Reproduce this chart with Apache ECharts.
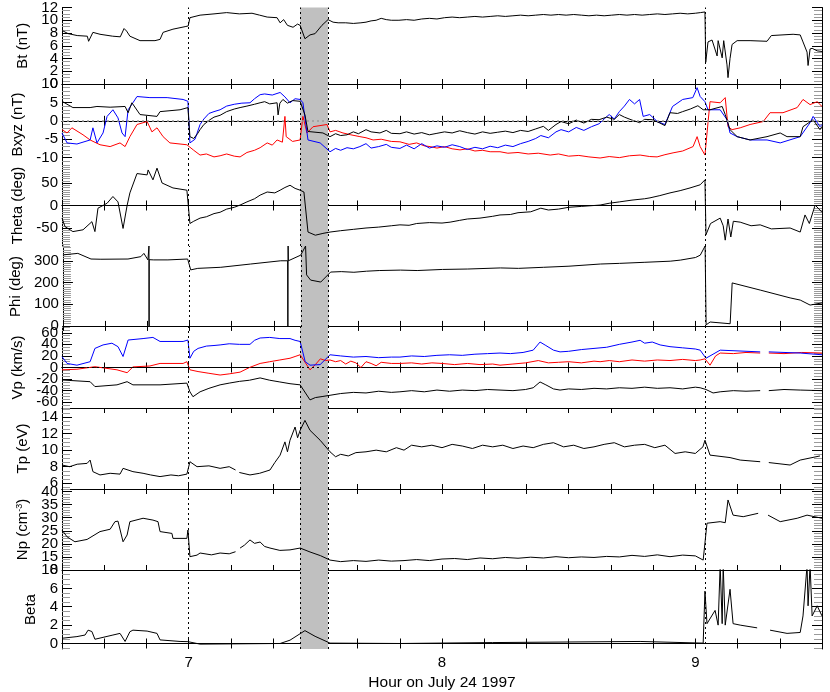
<!DOCTYPE html>
<html><head><meta charset="utf-8">
<script src="https://cdn.jsdelivr.net/npm/echarts/dist/echarts.min.js"></script>
<style>html,body{margin:0;padding:0;background:#fff}#c{width:830px;height:692px}</style>
</head><body><div id="c"></div>
<script>
// ---------- data: [hour, value] ----------
const bt = [[6.500,8.4],[6.524,7.9],[6.560,7.6],[6.600,7.5],[6.605,6.7],[6.612,6.6],[6.622,8.1],[6.650,7.8],[6.700,7.5],[6.730,7.4],[6.745,8.7],[6.755,8.3],[6.768,7.5],[6.808,6.8],[6.867,6.8],[6.887,7.0],[6.899,8.1],[6.938,8.6],[6.986,9.0],[6.998,9.1],[7.005,10.4],[7.045,10.8],[7.10,11.0],[7.15,11.2],[7.20,11.0],[7.25,11.1],[7.28,10.8],[7.31,10.5],[7.349,10.4],[7.361,9.6],[7.375,10.1],[7.39,9.2],[7.412,8.9],[7.43,9.4],[7.44,9.2],[7.459,7.1],[7.479,7.7],[7.499,7.9],[7.526,9.2],[7.550,10.1],[7.57,9.7],[7.59,9.6],[7.62,9.6],[7.65,9.5],[7.68,9.6],[7.70,9.7],[7.72,9.9],[7.74,10.0],[7.76,10.3],[7.78,10.1],[7.80,10.0],[7.83,10.0],[7.86,10.1],[7.89,10.0],[7.92,10.2],[7.95,10.3],[7.98,10.2],[8.01,10.4],[8.04,10.5],[8.07,10.4],[8.10,10.5],[8.13,10.6],[8.16,10.5],[8.19,10.6],[8.22,10.7],[8.25,10.6],[8.28,10.7],[8.31,10.8],[8.34,10.7],[8.37,10.8],[8.40,10.9],[8.43,10.8],[8.46,10.9],[8.49,10.8],[8.52,10.9],[8.55,10.8],[8.58,10.7],[8.61,10.8],[8.64,10.7],[8.67,10.8],[8.70,10.9],[8.73,10.8],[8.76,10.9],[8.79,10.8],[8.82,10.9],[8.85,11.0],[8.88,10.9],[8.91,11.0],[8.94,11.1],[8.97,11.0],[9.00,11.1],[9.02,11.2],[9.038,11.3],[9.041,3.4],[9.050,6.6],[9.066,6.9],[9.086,4.4],[9.090,6.8],[9.106,4.1],[9.112,6.8],[9.125,3.0],[9.129,1.0],[9.137,4.0],[9.145,6.2],[9.165,6.8],[9.216,6.8],[9.283,6.7],[9.30,7.6],[9.386,7.8],[9.414,7.7],[9.425,6.6],[9.441,5.0],[9.445,2.9],[9.453,5.5],[9.461,5.6],[9.481,5.2],[9.500,5.1]];
const bx = [[6.500,5.3],[6.543,3.6],[6.611,3.6],[6.638,3.9],[6.690,3.7],[6.749,3.9],[6.761,2.2],[6.776,4.9],[6.808,1.7],[6.875,1.2],[6.887,2.5],[6.966,3.0],[6.997,3.6],[7.005,-4.3],[7.02,-4.8],[7.035,-3.5],[7.045,-2.4],[7.06,-1.0],[7.084,0.3],[7.10,1.0],[7.124,1.5],[7.15,2.5],[7.18,3.2],[7.203,3.6],[7.23,4.0],[7.26,4.5],[7.282,4.9],[7.30,5.2],[7.32,4.6],[7.349,4.9],[7.353,1.6],[7.36,4.8],[7.372,5.8],[7.39,4.8],[7.41,5.5],[7.440,5.3],[7.459,1.6],[7.471,-2.9],[7.530,-3.3],[7.558,-4.3],[7.58,-3.5],[7.60,-4.0],[7.625,-3.8],[7.65,-3.0],[7.67,-3.5],[7.70,-2.4],[7.72,-3.0],[7.755,-3.3],[7.78,-2.6],[7.80,-3.4],[7.834,-3.5],[7.86,-3.0],[7.89,-3.6],[7.92,-3.2],[7.95,-3.8],[7.98,-3.4],[8.01,-3.0],[8.04,-3.3],[8.07,-2.7],[8.10,-3.2],[8.13,-3.6],[8.16,-3.0],[8.19,-3.4],[8.22,-3.1],[8.25,-2.8],[8.28,-3.2],[8.31,-2.6],[8.34,-2.9],[8.37,-2.2],[8.40,-1.5],[8.42,-2.6],[8.45,-1.0],[8.47,-0.2],[8.50,-0.8],[8.53,0.2],[8.56,-0.6],[8.59,0.4],[8.62,0.3],[8.65,1.0],[8.68,0.4],[8.70,1.7],[8.72,1.0],[8.75,0.2],[8.78,-0.5],[8.80,0.4],[8.83,0.3],[8.86,-0.6],[8.88,-1.3],[8.90,2.2],[8.93,2.0],[8.95,2.5],[8.98,3.2],[9.01,4.1],[9.031,3.0],[9.058,3.0],[9.106,3.9],[9.118,1.7],[9.137,-2.4],[9.165,-4.3],[9.216,-5.2],[9.283,-4.3],[9.335,-3.3],[9.362,-4.3],[9.414,-4.3],[9.425,-1.6],[9.465,0.3],[9.492,-2.4],[9.500,-1.5]];
const by = [[6.500,-2.4],[6.520,-3.3],[6.539,-1.9],[6.583,-3.8],[6.611,-5.2],[6.650,-6.5],[6.690,-7.0],[6.729,-6.0],[6.749,-7.0],[6.768,-4.3],[6.796,-1.0],[6.836,-0.2],[6.855,-3.0],[6.875,-1.9],[6.899,-4.3],[6.926,-6.0],[6.993,-6.5],[7.02,-8.0],[7.045,-9.3],[7.07,-9.0],[7.10,-9.8],[7.124,-9.5],[7.15,-9.0],[7.18,-9.6],[7.203,-9.8],[7.23,-8.6],[7.26,-8.0],[7.282,-7.3],[7.31,-6.0],[7.33,-6.6],[7.349,-5.2],[7.37,-5.8],[7.380,1.2],[7.385,-4.3],[7.41,-5.6],[7.440,-5.2],[7.451,1.2],[7.467,-3.3],[7.491,-1.6],[7.546,-1.0],[7.558,-3.0],[7.58,-2.6],[7.609,-3.3],[7.64,-3.8],[7.676,-4.3],[7.70,-4.6],[7.728,-5.2],[7.76,-5.0],[7.80,-5.6],[7.834,-5.7],[7.87,-6.4],[7.90,-6.0],[7.93,-6.8],[7.953,-7.0],[7.98,-7.4],[8.01,-7.0],[8.04,-7.6],[8.071,-7.9],[8.10,-7.6],[8.13,-8.2],[8.16,-8.0],[8.19,-8.4],[8.229,-8.4],[8.26,-8.8],[8.30,-8.6],[8.34,-9.0],[8.38,-8.8],[8.427,-9.3],[8.46,-9.0],[8.50,-9.6],[8.54,-9.4],[8.58,-9.8],[8.624,-10.1],[8.66,-9.7],[8.70,-10.0],[8.74,-9.5],[8.782,-9.3],[8.82,-9.7],[8.849,-9.8],[8.88,-9.2],[8.912,-8.7],[8.95,-8.2],[8.991,-7.0],[9.007,-4.3],[9.019,-7.0],[9.038,-9.3],[9.050,-0.5],[9.058,5.2],[9.098,4.9],[9.118,6.3],[9.129,-1.6],[9.145,-2.4],[9.177,-1.9],[9.216,-1.0],[9.268,-0.2],[9.295,2.2],[9.346,2.2],[9.402,3.6],[9.425,5.8],[9.453,4.4],[9.481,5.2],[9.500,3.9]];
const bz = [[6.500,-3.3],[6.520,-6.0],[6.559,-6.3],[6.611,-5.2],[6.622,-1.9],[6.638,-6.0],[6.662,-3.3],[6.678,1.2],[6.701,3.0],[6.721,0.8],[6.737,-3.3],[6.749,-4.3],[6.761,3.0],[6.780,4.9],[6.796,6.6],[6.847,6.3],[6.915,6.3],[6.978,5.8],[6.997,5.3],[7.005,-6.0],[7.025,-5.0],[7.045,-1.0],[7.06,0.5],[7.08,2.0],[7.10,2.5],[7.124,3.0],[7.15,4.0],[7.18,4.5],[7.21,4.8],[7.242,4.9],[7.26,6.0],[7.282,7.1],[7.30,7.3],[7.33,7.0],[7.361,7.7],[7.38,6.5],[7.400,4.9],[7.42,6.0],[7.440,5.8],[7.451,4.9],[7.471,-5.2],[7.519,-6.0],[7.558,-8.4],[7.58,-7.5],[7.60,-8.0],[7.625,-7.3],[7.65,-7.6],[7.676,-7.0],[7.70,-6.2],[7.72,-7.4],[7.75,-7.0],[7.78,-6.4],[7.80,-7.2],[7.834,-7.5],[7.86,-6.6],[7.89,-7.6],[7.92,-6.2],[7.95,-7.4],[7.98,-6.8],[8.01,-7.2],[8.04,-6.5],[8.07,-7.0],[8.10,-7.8],[8.13,-7.2],[8.16,-7.6],[8.19,-6.9],[8.22,-7.3],[8.25,-6.6],[8.28,-7.0],[8.31,-6.2],[8.34,-5.6],[8.37,-4.8],[8.39,-4.0],[8.42,-4.6],[8.45,-3.0],[8.47,-2.4],[8.50,-3.0],[8.53,-1.8],[8.56,-2.6],[8.59,-1.6],[8.62,-0.8],[8.64,0.5],[8.66,1.7],[8.68,0.5],[8.70,2.5],[8.72,4.0],[8.74,5.8],[8.76,4.6],[8.78,5.8],[8.794,1.2],[8.82,1.7],[8.85,-0.2],[8.88,-1.0],[8.91,3.9],[8.95,5.8],[8.99,6.3],[9.007,9.0],[9.019,6.6],[9.038,5.2],[9.050,3.0],[9.098,3.0],[9.125,0.3],[9.137,-3.3],[9.165,-4.3],[9.216,-5.2],[9.283,-5.2],[9.335,-6.0],[9.414,-4.3],[9.453,-0.5],[9.465,1.2],[9.492,-1.6],[9.500,-1.0]];
const theta = [[6.500,-28],[6.512,-47],[6.543,-58],[6.583,-54],[6.618,-36],[6.630,-58],[6.642,-6],[6.678,5],[6.701,20],[6.721,8],[6.741,-51],[6.757,0],[6.768,28],[6.796,71],[6.836,68],[6.840,79],[6.859,57],[6.875,83],[6.895,50],[6.938,39],[6.993,34],[6.997,31],[7.005,-40],[7.02,-35],[7.045,-28],[7.07,-25],[7.10,-18],[7.124,-15],[7.15,-8],[7.18,-4],[7.203,1],[7.23,8],[7.26,15],[7.282,23],[7.31,30],[7.34,28],[7.361,34],[7.38,40],[7.40,45],[7.42,38],[7.44,34],[7.455,30],[7.471,-59],[7.50,-66],[7.53,-62],[7.558,-59],[7.60,-56],[7.65,-53],[7.70,-50],[7.75,-48],[7.80,-45],[7.834,-43],[7.87,-44],[7.90,-40],[7.95,-38],[8.00,-39],[8.032,-37],[8.07,-33],[8.10,-30],[8.15,-28],[8.20,-24],[8.229,-21],[8.27,-20],[8.30,-16],[8.35,-14],[8.39,-6],[8.42,-10],[8.46,-8],[8.50,-4],[8.55,-2],[8.60,0],[8.624,1],[8.66,5],[8.70,8],[8.75,12],[8.80,15],[8.821,17],[8.86,22],[8.90,28],[8.94,33],[8.979,39],[9.019,46],[9.038,57],[9.042,-65],[9.06,-40],[9.098,-28],[9.11,-45],[9.118,-77],[9.129,-30],[9.14,-70],[9.15,-35],[9.177,-37],[9.22,-45],[9.256,-43],[9.30,-52],[9.374,-50],[9.414,-59],[9.433,-21],[9.45,-40],[9.473,1],[9.500,-15]];
const phi = [[6.500,327],[6.559,334],[6.611,308],[6.650,307],[6.757,308],[6.808,319],[6.820,334],[6.836,304],[6.840,368],[6.8405,-5],[6.841,305],[6.859,304],[6.915,304],[6.993,308],[7.005,258],[7.033,265],[7.124,270],[7.242,285],[7.361,300],[7.388,300],[7.389,-5],[7.390,368],[7.391,300],[7.440,326],[7.459,368],[7.463,235],[7.479,211],[7.519,202],[7.558,248],[7.60,250],[7.65,247],[7.70,252],[7.75,255],[7.834,257],[7.90,255],[8.0,260],[8.1,262],[8.229,267],[8.3,265],[8.4,270],[8.5,275],[8.624,285],[8.7,288],[8.8,293],[8.9,298],[8.94,303],[9.0,315],[9.019,326],[9.038,368],[9.042,5],[9.058,18],[9.137,10],[9.145,198],[9.256,165],[9.374,129],[9.414,119],[9.453,96],[9.500,106]];
const vpBlue = [[6.500,18.7],[6.520,7],[6.559,4],[6.611,10],[6.630,33],[6.662,39],[6.697,42],[6.721,36],[6.741,19],[6.761,47.5],[6.820,50],[6.859,52],[6.887,45],[6.978,45],[6.997,47.5],[7.005,16],[7.02,28],[7.037,33],[7.07,37],[7.10,38],[7.124,39],[7.16,41],[7.20,40],[7.242,40],[7.26,47],[7.282,51],[7.32,52],[7.36,50],[7.400,50],[7.42,47],[7.440,45],[7.46,10],[7.479,4],[7.519,5],[7.558,22],[7.60,20],[7.65,18],[7.70,19],[7.75,17],[7.80,18],[7.834,18],[7.88,20],[7.93,19],[7.98,21],[8.03,22],[8.08,21],[8.13,23],[8.18,24],[8.229,25],[8.27,24],[8.32,26],[8.36,30],[8.387,44],[8.41,38],[8.44,30],[8.466,27],[8.50,28],[8.55,31],[8.60,33],[8.65,35],[8.70,40],[8.75,44],[8.782,47],[8.80,42],[8.83,44],[8.861,39],[8.90,36],[8.95,34],[9.00,32],[9.019,30],[9.042,16],[9.098,30],[9.256,27],[9.26,null],[9.29,27],[9.414,25],[9.500,22]];
const vpRed = [[6.500,-4],[6.559,-3],[6.630,1.4],[6.717,-4],[6.757,-9],[6.780,1],[6.847,2.6],[6.887,7],[6.978,7],[6.993,10],[7.005,-4],[7.037,-7],[7.08,-10],[7.124,-13],[7.16,-11],[7.203,-8],[7.24,0],[7.282,7],[7.32,10],[7.36,13],[7.400,16],[7.42,19],[7.440,22],[7.479,-4],[7.50,5],[7.52,15],[7.54,12],[7.558,13],[7.58,10],[7.60,12],[7.62,6],[7.64,11],[7.66,8],[7.68,0],[7.70,10],[7.72,7],[7.74,3],[7.76,9],[7.80,7],[7.834,7],[7.88,8],[7.92,6],[7.96,8],[8.00,7],[8.05,5],[8.10,7],[8.15,5],[8.20,6],[8.229,4],[8.28,6],[8.33,8],[8.38,12],[8.42,8],[8.46,9],[8.50,10],[8.55,8],[8.60,11],[8.624,10],[8.66,12],[8.70,10],[8.75,13],[8.80,11],[8.85,13],[8.90,12],[8.95,14],[9.00,12],[9.019,13],[9.038,15],[9.058,4],[9.08,20],[9.098,25],[9.15,24],[9.20,26],[9.256,25],[9.26,null],[9.29,25],[9.35,24],[9.42,26],[9.500,25]];
const vpBlack = [[6.500,-21.6],[6.611,-24.5],[6.630,-33],[6.717,-30],[6.757,-24.5],[6.780,-30],[6.887,-30],[6.993,-27],[7.005,-42],[7.017,-50.5],[7.045,-42],[7.08,-36],[7.124,-30],[7.16,-27],[7.20,-24],[7.24,-22],[7.282,-18],[7.32,-22],[7.36,-25],[7.40,-28],[7.440,-30],[7.479,-56],[7.50,-52],[7.53,-50],[7.558,-48],[7.60,-45],[7.65,-43],[7.70,-44],[7.75,-41],[7.80,-43],[7.834,-42],[7.88,-40],[7.93,-42],[7.98,-39],[8.03,-41],[8.08,-39],[8.13,-40],[8.18,-38],[8.229,-39],[8.28,-40],[8.33,-38],[8.36,-35],[8.387,-25],[8.41,-30],[8.44,-37],[8.466,-39],[8.50,-37],[8.55,-38],[8.60,-36],[8.65,-37],[8.70,-35],[8.75,-36],[8.80,-34],[8.85,-36],[8.90,-35],[8.95,-37],[9.0,-34],[9.019,-35],[9.042,-38],[9.07,-44],[9.098,-42],[9.15,-40],[9.2,-41],[9.256,-40],[9.26,null],[9.29,-40],[9.35,-38],[9.414,-39],[9.500,-40]];
const tp = [[6.500,8.2],[6.53,8.0],[6.56,8.3],[6.599,8.4],[6.611,8.8],[6.622,7.4],[6.650,7.0],[6.69,7.2],[6.729,7.1],[6.741,7.8],[6.780,7.4],[6.82,7.2],[6.85,7.0],[6.887,6.8],[6.93,7.0],[6.96,6.9],[6.993,7.1],[7.005,8.6],[7.033,8.0],[7.08,8.1],[7.124,7.8],[7.16,8.0],[7.185,7.6],[7.19,null],[7.20,7.3],[7.242,7.0],[7.28,7.2],[7.321,7.6],[7.34,8.5],[7.361,9.4],[7.38,11.0],[7.39,9.8],[7.400,11.2],[7.42,12.8],[7.43,11.5],[7.440,12.4],[7.459,13.6],[7.479,12.4],[7.519,11.2],[7.558,9.8],[7.58,9.2],[7.60,9.5],[7.63,9.3],[7.66,9.7],[7.70,9.8],[7.74,10.0],[7.78,9.8],[7.82,10.3],[7.85,10.0],[7.88,10.6],[7.92,10.4],[7.96,10.6],[8.0,10.3],[8.04,10.7],[8.08,10.5],[8.12,10.2],[8.16,10.6],[8.20,10.4],[8.24,10.6],[8.28,10.2],[8.32,10.5],[8.36,10.3],[8.40,10.7],[8.44,10.9],[8.48,10.4],[8.52,10.6],[8.56,10.2],[8.60,10.4],[8.64,10.7],[8.68,10.9],[8.72,10.4],[8.76,10.6],[8.80,10.7],[8.84,10.3],[8.88,10.6],[8.92,9.6],[8.96,9.8],[9.00,9.6],[9.03,10.4],[9.038,11.2],[9.058,9.4],[9.137,9.1],[9.177,8.8],[9.256,8.6],[9.26,null],[9.29,8.5],[9.374,8.2],[9.414,8.8],[9.492,9.3]];
const np = [[6.500,25.3],[6.520,22.7],[6.551,20.8],[6.599,21.7],[6.650,24.7],[6.690,25.6],[6.709,28.5],[6.721,28.7],[6.741,20.8],[6.757,23.4],[6.768,28.5],[6.820,29.8],[6.859,29.1],[6.879,28.5],[6.887,24.7],[6.934,24.0],[6.938,22.1],[6.993,22.1],[6.997,25.3],[7.005,15.1],[7.033,15.7],[7.045,16.5],[7.09,15.8],[7.124,16.5],[7.16,16.2],[7.185,17.0],[7.19,null],[7.203,18.4],[7.22,19.5],[7.242,21.5],[7.26,20.2],[7.282,20.7],[7.30,19.0],[7.321,18.4],[7.36,17.5],[7.400,17.7],[7.440,18.4],[7.479,16.9],[7.52,15.5],[7.558,13.8],[7.60,13.2],[7.65,13.6],[7.70,13.3],[7.75,13.8],[7.80,13.4],[7.85,13.6],[7.90,14.0],[7.95,13.6],[8.0,14.2],[8.05,14.4],[8.10,14.0],[8.15,14.6],[8.2,14.3],[8.25,14.8],[8.3,14.5],[8.35,14.9],[8.4,14.6],[8.45,15.1],[8.5,14.7],[8.55,15.0],[8.6,14.8],[8.65,15.2],[8.7,15.0],[8.75,15.6],[8.8,15.2],[8.85,15.8],[8.9,15.1],[8.95,15.7],[9.0,15.4],[9.031,13.8],[9.046,27.9],[9.098,28.5],[9.118,28.1],[9.129,36.8],[9.149,31.0],[9.189,30.4],[9.248,31.7],[9.26,null],[9.287,31.0],[9.335,28.5],[9.402,29.8],[9.441,31.0],[9.500,29.8]];
const beta = [[6.500,0.57],[6.559,0.75],[6.591,0.92],[6.603,1.45],[6.618,1.3],[6.630,0.46],[6.701,0.92],[6.729,1.1],[6.749,0.22],[6.768,1.28],[6.780,1.45],[6.836,1.35],[6.875,1.1],[6.887,0.39],[6.966,0.22],[6.997,0.2],[7.045,-0.07],[7.361,0.0],[7.400,0.36],[7.459,1.4],[7.499,0.78],[7.558,0.04],[7.834,0.0],[8.2,0.1],[8.782,0.22],[9.031,0.04],[9.038,5.7],[9.046,2.16],[9.078,3.6],[9.090,2.0],[9.098,8.5],[9.106,2.16],[9.110,8.5],[9.118,2.0],[9.137,5.9],[9.149,2.16],[9.177,2.0],[9.244,1.7],[9.26,null],[9.295,1.45],[9.362,1.1],[9.414,1.2],[9.425,3.0],[9.441,8.5],[9.445,4.1],[9.453,8.5],[9.461,3.0],[9.481,4.1],[9.500,3.0]];

// tick labels
const hourLabels = [7, 8, 9];
const btTicks = [0,2,4,6,8,10,12];
const bxyzTicks = [-10,-5,0,5,10];
const thetaTicks = [-50,0,50];
const phiTicks = [0,100,200,300];
const vpTicks = [-60,-40,-20,0,20,40,60];
const tpTicks = [6,8,10,12,14];
const npTicks = [10,15,20,25,30,35,40];
const betaTicks = [0,2,4,6,8];
// event markers (hours)
const eventLines = [7.0, 9.041];
const band = [7.44, 7.55];

// ---------- layout ----------
const FONT = 'Liberation Sans, Arial, Helvetica, sans-serif';
const panels = [
 {name:'Bt (nT)', min:0, max:12, labels:btTicks, minor:0.5, lines:[[bt,'#000']]},
 {name:'Bxyz (nT)', min:-12, max:10, labels:bxyzTicks, minor:1, lines:[[by,'#ff0000'],[bz,'#0000ff'],[bx,'#000']], zero:'#9a9a9a'},
 {name:'Theta (deg)', min:-90, max:90, labels:thetaTicks, minor:5, lines:[[theta,'#000']]},
 {name:'Phi (deg)', min:-5, max:368, labels:phiTicks, minor:10, lines:[[phi,'#000']]},
 {name:'Vp (km/s)', min:-70, max:70, labels:vpTicks, minor:5, lines:[[vpRed,'#ff0000'],[vpBlue,'#0000ff'],[vpBlack,'#000']], zero:'#000'},
 {name:'Tp (eV)', min:5.3, max:15.1, labels:tpTicks, minor:0.5, lines:[[tp,'#000']]},
 {name:'Np (cm{s|-3})', min:10, max:41, labels:npTicks, minor:1, lines:[[np,'#000']]},
 {name:'Beta', min:-0.6, max:8, labels:betaTicks, minor:0.5, lines:[[beta,'#000']]}
];
const tops = [3,84,165,246,327,408,489,570];
const H = 81;

const xTicks = [];
for (let k = 0; k <= 18; k++) xTicks.push(+(6.5 + k/6).toFixed(6));

function minorVals(p) {
  const out = [];
  const s = p.minor;
  for (let v = Math.ceil(p.min/s)*s; v <= p.max + 1e-9; v += s) {
    const r = +v.toFixed(6);
    if (!p.labels.some(l => Math.abs(l - r) < 1e-6)) out.push(r);
  }
  return out;
}

const labelStyle = {color:'#000', fontSize:15, fontFamily:FONT, margin:4,
  showMinLabel:true, showMaxLabel:true, hideOverlap:false};

const grid = [], xAxis = [], yAxis = [], series = [];
panels.forEach((p, i) => {
  grid.push({left:62, right:8, top:tops[i], height:H});
  const last = i === panels.length - 1;
  const xBase = {gridIndex:i, type:'value', min:6.5, max:9.5,
    axisLine:{lineStyle:{color:'#000', width:1}},
    axisTick:{inside:true, length:5, customValues:xTicks, lineStyle:{color:'#000'}},
    splitLine:{show:false}};
  xAxis.push(Object.assign({}, xBase, {position:'bottom',
    axisLabel: last ? {show:true, customValues:hourLabels, color:'#000', fontSize:15, fontFamily:FONT, margin:6, showMinLabel:true, showMaxLabel:true} : {show:false},
    name: last ? 'Hour on July 24 1997' : '', nameLocation:'middle', nameGap:26,
    nameTextStyle:{color:'#000', fontSize:15.5, fontFamily:FONT}}));
  xAxis.push(Object.assign({}, xBase, {position:'top', axisLabel:{show:false}}));
  // split labels into two alternating sets so none is auto-hidden
  const labA = p.labels.filter((v, k) => k % 2 === 0);
  const labB = p.labels.filter((v, k) => k % 2 === 1);
  const yBase = {gridIndex:i, type:'value', min:p.min, max:p.max, splitLine:{show:false}};
  yAxis.push(Object.assign({}, yBase, {position:'left',
    axisLine:{lineStyle:{color:'#000'}},
    axisTick:{inside:true, length:10, customValues:p.labels, lineStyle:{color:'#000'}},
    axisLabel:Object.assign({customValues:labA}, labelStyle),
    name:p.name, nameLocation:'middle', nameGap:24, nameRotate:90,
    nameTextStyle:{color:'#000', fontSize:15, fontFamily:FONT,
      rich:{s:{fontSize:9, verticalAlign:'top', color:'#000', fontFamily:FONT}}}}));
  yAxis.push(Object.assign({}, yBase, {position:'left', axisLine:{show:false},
    axisTick:{inside:true, length:8, customValues:minorVals(p), lineStyle:{color:'#9a9a9a'}},
    axisLabel: labB.length ? Object.assign({customValues:labB}, labelStyle) : {show:false}}));
  yAxis.push(Object.assign({}, yBase, {position:'right',
    axisLine:{lineStyle:{color:'#000'}},
    axisTick:{inside:true, length:10, customValues:p.labels, lineStyle:{color:'#000'}},
    axisLabel:{show:false}}));
  yAxis.push(Object.assign({}, yBase, {position:'right', axisLine:{show:false},
    axisTick:{inside:true, length:8, customValues:minorVals(p), lineStyle:{color:'#9a9a9a'}},
    axisLabel:{show:false}}));

  const mlData = eventLines.concat(band).map(v => ({xAxis:v}));
  const mlYData = [];
  if (p.zero) mlYData.push({yAxis:0, lineStyle:{color:p.zero, type:[2,3], width:p.zero === '#000' ? 1 : 1.5}});
  series.push({type:'line', xAxisIndex:2*i, yAxisIndex:4*i, data:[], z:1, silent:true,
    markArea:{silent:true, itemStyle:{color:'#c0c0c0', opacity:1}, data:[[{xAxis:band[0]},{xAxis:band[1]}]]},
    markLine:{silent:true, symbol:['none','none'], label:{show:false}, animation:false,
      lineStyle:{color:'#000', type:[2,3], width:1},
      data: mlData.concat(mlYData)}});
  p.lines.forEach(([d, c]) => {
    series.push({type:'line', xAxisIndex:2*i, yAxisIndex:4*i, z:3,
      data:d.map(pt => pt[1] === null ? [pt[0], '-'] : pt),
      showSymbol:false, symbol:'none', connectNulls:false,
      lineStyle:{color:c, width:1}, itemStyle:{color:c}, animation:false});
  });
});

const chart = echarts.init(document.getElementById('c'), null, {renderer:'canvas'});
chart.setOption({animation:false, backgroundColor:'#fff', grid, xAxis, yAxis, series});
</script></body></html>
